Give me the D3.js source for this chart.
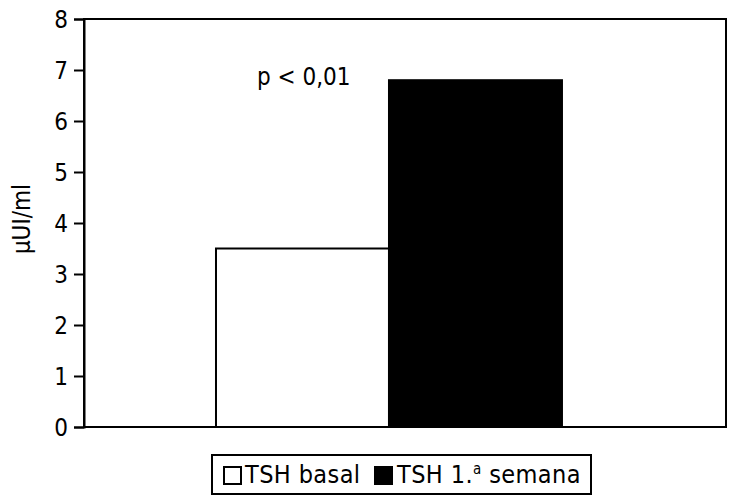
<!DOCTYPE html>
<html>
<head>
<meta charset="utf-8">
<script src="https://cdn.jsdelivr.net/npm/d3@7"></script>
<style>
  body { margin: 0; background: #fff; }
  svg { display: block; }
</style>
</head>
<body>
<div id="chart"></div>
<script>
// data
var categories = ["TSH basal", "TSH 1.ª semana"];
var values = [3.5, 6.8];
var barColors = ["#fff", "#000"];
var yTicks = [0, 1, 2, 3, 4, 5, 6, 7, 8];
var note = "p < 0,01";

var width = 730;
var height = 496;
var margin = { top: 19, right: 4, bottom: 69, left: 84 };
var font = "'Liberation Sans Narrow', 'DejaVu Sans Condensed', sans-serif";

var svg = d3.select("#chart").append("svg")
    .attr("width", width)
    .attr("height", height);

var plotW = width - margin.left - margin.right;
var plotH = height - margin.top - margin.bottom;

var y = d3.scaleLinear()
    .domain([0, 8])
    .range([margin.top + plotH, margin.top]);

// bars sit off-centre in the frame, as in the original
var x = d3.scaleBand()
    .domain(categories)
    .range([margin.left + plotW * 0.2056, margin.left + plotW * 0.7445])
    .padding(0);

// frame
svg.append("rect")
    .attr("x", margin.left)
    .attr("y", margin.top)
    .attr("width", plotW)
    .attr("height", plotH)
    .attr("fill", "none")
    .attr("stroke", "#000")
    .attr("stroke-width", 2);

// bars
svg.selectAll("rect.bar")
    .data(values)
    .enter()
    .append("rect")
    .attr("class", "bar")
    .attr("x", function (d, i) { return x(categories[i]); })
    .attr("y", function (d) { return y(d); })
    .attr("width", x.bandwidth())
    .attr("height", function (d) { return y(0) - y(d); })
    .attr("fill", function (d, i) { return barColors[i]; })
    .attr("stroke", "#000")
    .attr("stroke-width", 2);

// y axis
var yAxis = svg.append("g")
    .attr("transform", "translate(" + margin.left + ",0)")
    .call(d3.axisLeft(y).tickValues(yTicks).tickSize(10).tickPadding(6).tickFormat(d3.format("d")));
yAxis.select(".domain").attr("stroke", "#000").attr("stroke-width", 2);
yAxis.selectAll(".tick line").attr("stroke", "#000").attr("stroke-width", 2);
yAxis.selectAll(".tick text")
    .attr("font-family", font)
    .attr("font-size", "24px")
    .attr("fill", "#000")
    .attr("dy", "0.36em");

// y label
svg.append("text")
    .attr("transform", "translate(30," + (margin.top + plotH / 2 - 4) + ") rotate(-90)")
    .attr("text-anchor", "middle")
    .attr("font-family", font)
    .attr("font-size", "24px")
    .attr("fill", "#000")
    .text("µUI/ml");

// significance note
svg.append("text")
    .attr("x", 257)
    .attr("y", y(6.9) + 10)
    .attr("font-family", font)
    .attr("font-size", "24px")
    .attr("fill", "#000")
    .text(note);

// legend
var legend = svg.append("g").attr("transform", "translate(212,455)");
legend.append("rect")
    .attr("width", 379)
    .attr("height", 39)
    .attr("fill", "#fff")
    .attr("stroke", "#000")
    .attr("stroke-width", 2);

var legendX = [12, 163];
var items = legend.selectAll("g.item")
    .data(categories)
    .enter()
    .append("g")
    .attr("class", "item")
    .attr("transform", function (d, i) { return "translate(" + legendX[i] + ",0)"; });
items.append("rect")
    .attr("y", 12)
    .attr("width", 17)
    .attr("height", 17)
    .attr("fill", function (d, i) { return barColors[i]; })
    .attr("stroke", "#000")
    .attr("stroke-width", 2);
items.append("text")
    .attr("x", function (d, i) { return i === 0 ? 21 : 22; })
    .attr("y", 28)
    .attr("font-family", font)
    .attr("font-size", "25px")
    .attr("letter-spacing", "0.4px")
    .attr("fill", "#000")
    .each(function (d) {
      var t = d3.select(this);
      var parts = d.split("ª");
      if (parts.length > 1) {
        t.append("tspan").text(parts[0]);
        t.append("tspan").attr("dy", -9).attr("font-size", "15px").text("a");
        t.append("tspan").attr("dy", 9).text(parts[1]);
      } else {
        t.text(d);
      }
    });
</script>
</body>
</html>
